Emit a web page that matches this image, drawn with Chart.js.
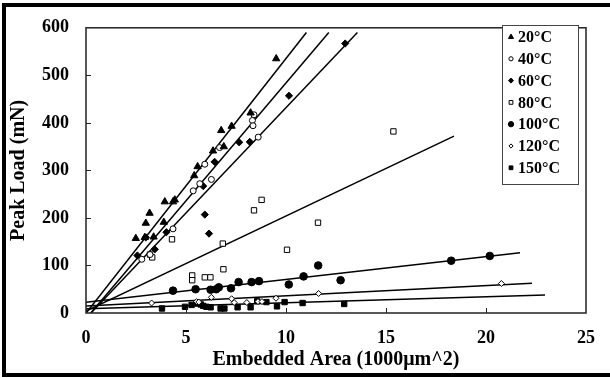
<!DOCTYPE html>
<html>
<head>
<meta charset="utf-8">
<script src="https://cdn.jsdelivr.net/npm/chart.js@4.4.0/dist/chart.umd.min.js"></script>
<style>
html, body { margin: 0; padding: 0; background: #fff; }
#wrap { position: relative; width: 610px; height: 378px; overflow: hidden; }
#frame { position: absolute; left: 2px; top: 3px; width: 640px; height: 374px; border: 4px solid #000; border-right: none; box-sizing: border-box; pointer-events: none; }
canvas { position: absolute; left: 0; top: 0; }
</style>
</head>
<body>
<div id="wrap">
    <canvas id="peakChart" width="610" height="378"></canvas>
    <div id="frame"></div>
</div>
<script>
// series labels (legend order)
const seriesLabels = ['20°C', '40°C', '60°C', '80°C', '100°C', '120°C', '150°C'];

// measured points [embedded area, peak load]
const pts20 = [[2.49, 157], [2.94, 159], [3.38, 160], [2.99, 189], [3.18, 210], [3.89, 191], [3.94, 234],
    [4.35, 234], [4.44, 238], [5.41, 289], [5.58, 308], [6.35, 341], [6.89, 350], [6.76, 384],
    [7.28, 393], [8.23, 421], [9.51, 535]];
const pts40 = [[2.79, 113], [3.2, 123], [4.35, 177], [5.36, 257], [5.69, 272], [5.94, 313], [6.27, 281],
    [6.68, 348], [8.4, 417], [8.32, 405], [8.35, 394], [8.61, 370]];
const pts60 = [[2.57, 121], [2.99, 159], [3.44, 134], [4.02, 170], [5.86, 267], [5.94, 207], [6.15, 167],
    [6.43, 318], [7.66, 359], [8.19, 360], [10.15, 457], [12.96, 567]];
const pts80 = [[3.2, 123], [3.31, 117], [4.3, 155], [5.31, 79], [5.31, 69], [5.94, 75], [6.22, 75],
    [6.84, 146], [6.87, 92], [8.4, 216], [8.78, 238], [10.05, 133], [11.6, 190], [15.37, 382]];
const pts100 = [[4.35, 47], [5.48, 50], [6.23, 49], [6.51, 50], [6.64, 54], [7.25, 52], [7.63, 65],
    [8.28, 65], [8.65, 67], [10.14, 60], [10.88, 77], [11.61, 100], [12.73, 69], [18.26, 110], [20.19, 120]];
const pts120 = [[3.28, 21], [5.53, 24], [5.64, 23], [6.27, 33], [7.28, 30], [7.41, 22], [8.04, 22],
    [8.6, 24], [8.8, 24], [9.5, 31], [11.63, 41], [20.77, 62]];
const pts150 = [[3.8, 9.5], [4.95, 13], [5.28, 17], [5.58, 20], [5.74, 18], [5.86, 15], [6.02, 13],
    [6.23, 12], [6.73, 9.5], [6.92, 9.5], [7.58, 12], [8.23, 12], [8.56, 25], [9.02, 23], [9.55, 14],
    [9.93, 23], [10.83, 21], [12.91, 19]];

// linear fits: slope, intercept, last x of the drawn line
const fitSlope = [53.6, 49.6, 44.3, 20.0, 4.82, 2.14, 1.27];
const fitIntercept = [-0.5, -11.9, -11.0, 4.0, 22.4, 14.7, 8.8];
const fitEnd = [11.02, 12.14, 13.57, 18.4, 21.7, 22.3, 22.95];

// axis ticks
const xTicks = [0, 5, 10, 15, 20, 25];
const yTicks = [0, 100, 200, 300, 400, 500, 600];

const allPoints = [pts20, pts40, pts60, pts80, pts100, pts120, pts150];

// marker look per series
const markers = [
    { style: 'triangle', radius: 4.2, filled: true },
    { style: 'circle', radius: 3, filled: false },
    { style: 'rectRot', radius: 3.6, filled: true },
    { style: 'rect', radius: 3.8, filled: false },
    { style: 'circle', radius: 3.8, filled: true },
    { style: 'rectRot', radius: 3, filled: false },
    { style: 'rect', radius: 3.8, filled: true }
];

const serif = "'Liberation Serif', 'Times New Roman', serif";

function fitLine(i) {
    const m = fitSlope[i], b = fitIntercept[i];
    const x0 = Math.max(0, -b / m);
    return [{ x: x0, y: m * x0 + b }, { x: fitEnd[i], y: m * fitEnd[i] + b }];
}

const datasets = [];
allPoints.forEach((pts, i) => {
    const mk = markers[i];
    datasets.push({
        label: seriesLabels[i],
        data: pts.map(p => ({ x: p[0], y: p[1] })),
        showLine: false,
        pointStyle: mk.style,
        pointRadius: mk.radius,
        pointBackgroundColor: mk.filled ? '#000' : '#fff',
        pointBorderColor: '#000',
        pointBorderWidth: 1,
        order: 1
    });
});
allPoints.forEach((pts, i) => {
    datasets.push({
        label: seriesLabels[i] + ' fit',
        data: fitLine(i),
        showLine: true,
        borderColor: '#000',
        borderWidth: 1.5,
        pointRadius: 0,
        order: 2
    });
});

function drawMarker(ctx, mk, x, y) {
    const r = mk.radius;
    ctx.beginPath();
    if (mk.style === 'triangle') {
        ctx.moveTo(x, y - r);
        ctx.lineTo(x + r * 0.866, y + r * 0.5);
        ctx.lineTo(x - r * 0.866, y + r * 0.5);
        ctx.closePath();
    } else if (mk.style === 'circle') {
        ctx.arc(x, y, r, 0, Math.PI * 2);
    } else if (mk.style === 'rectRot') {
        ctx.moveTo(x, y - r);
        ctx.lineTo(x + r, y);
        ctx.lineTo(x, y + r);
        ctx.lineTo(x - r, y);
        ctx.closePath();
    } else {
        const s = r * Math.SQRT1_2;
        ctx.rect(x - s, y - s, s * 2, s * 2);
    }
    ctx.fillStyle = mk.filled ? '#000' : '#fff';
    ctx.fill();
    ctx.strokeStyle = '#000';
    ctx.lineWidth = 1;
    ctx.stroke();
}

const framePlugin = {
    id: 'frame',
    afterDatasetsDraw(chart) {
        const { ctx, chartArea: a, scales } = chart;
        ctx.save();
        ctx.strokeStyle = '#222';
        ctx.lineWidth = 1.5;
        ctx.strokeRect(a.left, a.top, a.right - a.left, a.bottom - a.top);

        // inner tick marks
        ctx.lineWidth = 1;
        ctx.beginPath();
        xTicks.slice(1, -1).forEach(v => {
            const px = Math.round(scales.x.getPixelForValue(v)) + 0.5;
            ctx.moveTo(px, a.bottom);
            ctx.lineTo(px, a.bottom - 5);
        });
        yTicks.slice(1, -1).forEach(v => {
            const py = Math.round(scales.y.getPixelForValue(v)) + 0.5;
            ctx.moveTo(a.left, py);
            ctx.lineTo(a.left + 5, py);
        });
        ctx.stroke();

        // legend box
        const lx = 502, ly = 25, lw = 76, lh = 159;
        ctx.fillStyle = '#fff';
        ctx.fillRect(lx, ly, lw, lh);
        ctx.strokeStyle = '#444';
        ctx.lineWidth = 1;
        ctx.strokeRect(lx + 0.5, ly + 0.5, lw, lh);
        ctx.font = 'bold 16px ' + serif;
        ctx.textBaseline = 'middle';
        seriesLabels.forEach((lab, i) => {
            const cy = 37 + i * 21.8;
            const mk = Object.assign({}, markers[i], { radius: markers[i].radius * 0.7 });
            drawMarker(ctx, mk, 511, cy);
            ctx.fillStyle = '#000';
            ctx.fillText(lab, 518, cy + 1);
        });
        ctx.restore();
    }
};

new Chart(document.getElementById('peakChart'), {
    type: 'scatter',
    data: { datasets },
    options: {
        responsive: false,
        animation: false,
        layout: { padding: { left: 0, top: 18, right: 16, bottom: 0 } },
        plugins: { legend: { display: false }, tooltip: { enabled: false } },
        scales: {
            x: {
                type: 'linear',
                min: 0, max: 25,
                grid: { display: false, drawTicks: false },
                border: { display: false },
                afterFit(scale) { scale.height = 65; },
                afterBuildTicks(scale) { scale.ticks = xTicks.map(v => ({ value: v })); },
                ticks: { padding: 15, color: '#000', font: { family: serif, size: 18, weight: 'bold' } },
                title: {
                    display: true,
                    text: 'Embedded Area (1000μm^2)',
                    color: '#000',
                    padding: { top: 0, bottom: 6 },
                    font: { family: serif, size: 20, weight: 'bold' }
                }
            },
            y: {
                type: 'linear',
                min: 0, max: 600,
                grid: { display: false, drawTicks: false },
                border: { display: false },
                afterFit(scale) { scale.width = 86; },
                afterBuildTicks(scale) { scale.ticks = yTicks.map(v => ({ value: v })); },
                ticks: { padding: 17, color: '#000', font: { family: serif, size: 18, weight: 'bold' } },
                title: {
                    display: true,
                    text: 'Peak Load (mN)',
                    color: '#000',
                    padding: { top: 7, bottom: 0 },
                    font: { family: serif, size: 20, weight: 'bold' }
                }
            }
        }
    },
    plugins: [framePlugin]
});
</script>
</body>
</html>
